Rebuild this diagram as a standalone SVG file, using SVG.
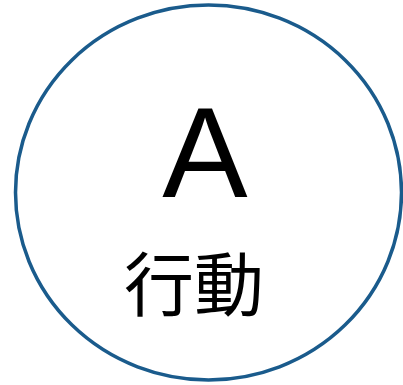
<svg xmlns="http://www.w3.org/2000/svg" width="403" height="385" viewBox="0 0 403 385">
<style>
.ring{fill:#ffffff;stroke:#1a5b8c;stroke-width:3.5}
.big{font-family:"Liberation Sans",Arial,sans-serif;font-size:128px;fill:#000;text-anchor:middle}
.cjk{font-family:"Noto Sans CJK TC","Noto Sans CJK JP",serif;font-size:70px;fill:#000;text-anchor:middle}
</style>
<rect width="403" height="385" fill="#ffffff"/>
<g id="node-a">
<ellipse class="ring" cx="208.5" cy="192.5" rx="193" ry="187.5"/>
<text class="big" x="205" y="197">A</text>
<text class="cjk" x="194" y="311">行動</text>
</g>
</svg>
